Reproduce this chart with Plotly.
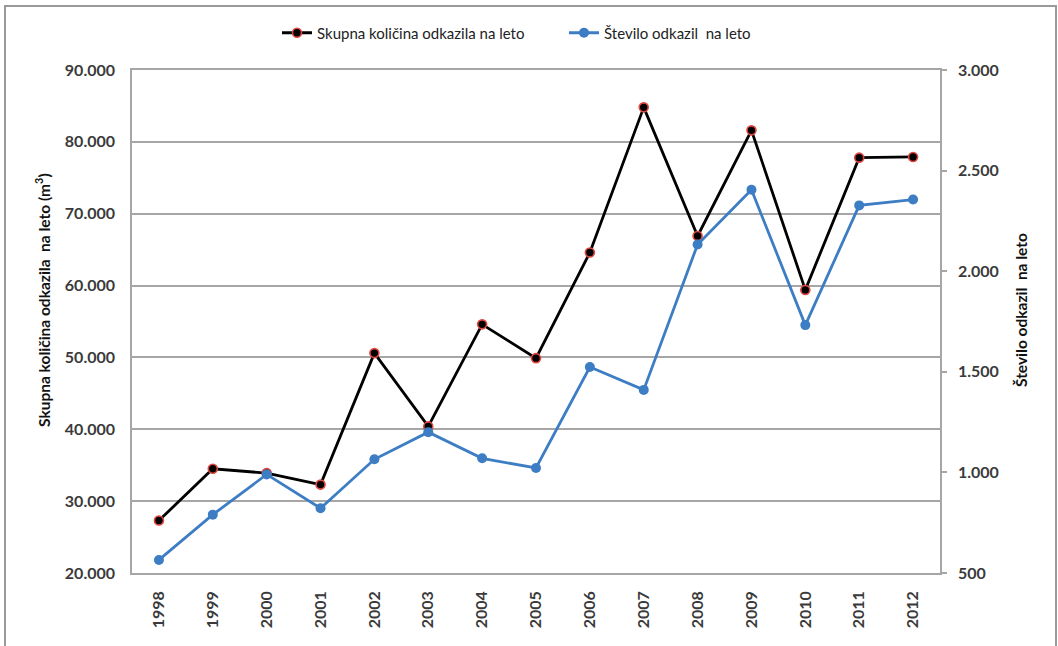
import plotly.graph_objects as go

years = ["1998", "1999", "2000", "2001", "2002", "2003", "2004", "2005",
         "2006", "2007", "2008", "2009", "2010", "2011", "2012"]
volume_m3 = [27300, 34500, 33900, 32300, 50600, 40400, 54600, 49900,
             64600, 84800, 66900, 81600, 59400, 77800, 77900]
count = [565, 790, 990, 822, 1065, 1200, 1070, 1022,
         1524, 1410, 2133, 2405, 1732, 2327, 2356]

name_vol = "Skupna količina odkazila na leto"
name_cnt = "Število odkazil  na leto"
title_left = "Skupna količina odkazila  na leto (m<sup>3</sup>)"
title_right = "Število odkazil  na leto"

FONT = "Lato"
TXT = "#3a3a3a"
GRID = "#a6a6a6"

fig = go.Figure()
fig.add_trace(go.Scatter(
    x=years, y=volume_m3, name=name_vol, mode="lines+markers",
    line=dict(color="black", width=2.8),
    marker=dict(color="black", size=9, line=dict(color="#e0483f", width=1.6)),
    yaxis="y", legend="legend"))
fig.add_trace(go.Scatter(
    x=years, y=count, name=name_cnt, mode="lines+markers",
    line=dict(color="#3d7dc4", width=2.8),
    marker=dict(color="#3d7dc4", size=10),
    yaxis="y2", legend="legend2"))

W, H = 1058, 646
L, R, T, B = 132, 118, 70, 73
pw, ph = W - L - R, H - T - B

def px(x):
    return (x - L) / pw

def py(y):
    return (H - B - y) / ph

TICKF = dict(family=FONT, size=16, color=TXT, weight="bold")
LEGF = dict(family=FONT, size=15, color="#222")
TITF = dict(family=FONT, size=15.5, color="#111", weight="bold")

fig.update_layout(
    width=W, height=H,
    margin=dict(l=L, r=R, t=T, b=B),
    paper_bgcolor="white", plot_bgcolor="white",
    separators=",.",
    font=dict(family=FONT, size=13, color=TXT),
    showlegend=True,
    legend=dict(orientation="h", x=px(277), y=py(33), xanchor="left", yanchor="middle",
                font=LEGF, itemwidth=30, bgcolor="rgba(0,0,0,0)"),
    legend2=dict(orientation="h", x=px(564), y=py(33), xanchor="left", yanchor="middle",
                 font=LEGF, itemwidth=30, bgcolor="rgba(0,0,0,0)"),
    xaxis=dict(type="category", range=[-0.5, 14.5], tickangle=-90,
               showgrid=False, showline=True, linecolor=GRID, linewidth=1.5, mirror=True,
               ticks="outside", ticklen=10, tickcolor="rgba(0,0,0,0)",
               tickfont=TICKF),
    yaxis=dict(range=[20000, 90000], dtick=10000, tickformat=",.0f",
               showgrid=True, gridcolor=GRID, gridwidth=1.5,
               showline=True, linecolor=GRID, linewidth=1.5,
               ticks="outside", ticklen=12, tickcolor="rgba(0,0,0,0)",
               tickfont=TICKF, zeroline=False),
    yaxis2=dict(range=[500, 3000], dtick=500, tickformat=",.0f", overlaying="y", side="right",
                showgrid=False, showline=True, linecolor=GRID, linewidth=1.5,
                ticks="outside", ticklen=5, tickcolor=GRID, tickwidth=1.5,
                ticklabelstandoff=8, tickfont=TICKF, zeroline=False),
    annotations=[
        dict(text=title_left, textangle=-90, xref="paper", yref="paper",
             x=px(42), y=py(300), xanchor="center", yanchor="middle",
             showarrow=False, font=TITF),
        dict(text=title_right, textangle=-90, xref="paper", yref="paper",
             x=px(1021), y=py(310), xanchor="center", yanchor="middle",
             showarrow=False, font=TITF),
    ],
    shapes=[dict(type="rect", xref="paper", yref="paper",
                 x0=px(5), x1=px(1056), y0=py(655), y1=py(6),
                 line=dict(color="#9a9a9a", width=2), fillcolor="rgba(0,0,0,0)", layer="below")],
)

fig.write_html("out.html", post_script="document.body.style.margin='0';",
               config={"displayModeBar": False})
